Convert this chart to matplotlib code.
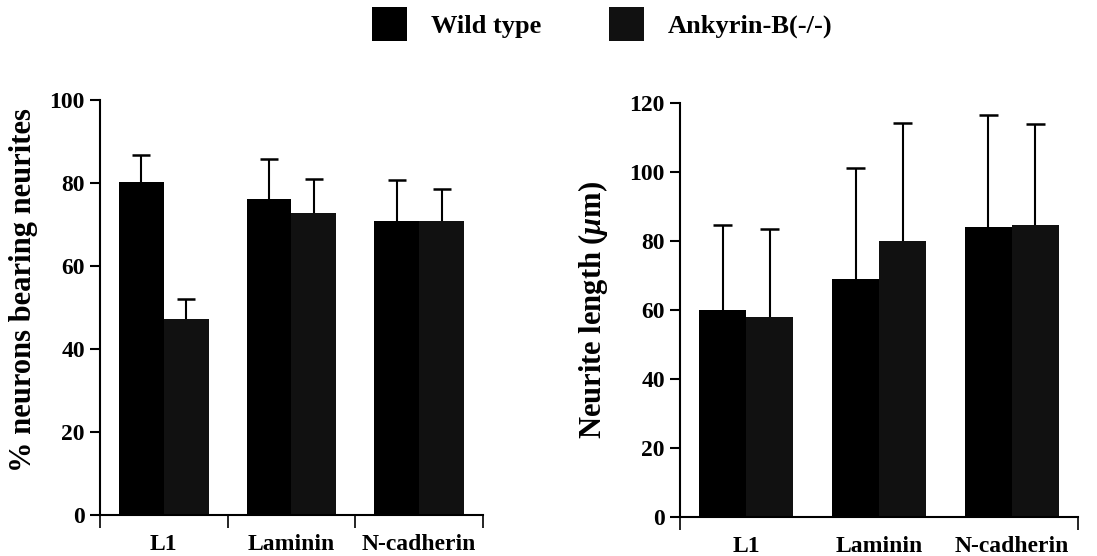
import matplotlib
matplotlib.use("Agg")
import matplotlib.pyplot as plt
from matplotlib.patches import Patch
import numpy as np

plt.rcParams['font.family'] = ['Liberation Serif', 'DejaVu Serif']
plt.rcParams['font.weight'] = 'bold'
plt.rcParams['mathtext.fontset'] = 'custom'
plt.rcParams['mathtext.it'] = 'Liberation Serif:bold:italic'
plt.rcParams['mathtext.rm'] = 'Liberation Serif:bold'

categories = ["L1", "Laminin", "N-cadherin"]
series_names = ["Wild type", "Ankyrin-B(-/-)"]

pct_wt = [80.3, 76.1, 71.0]
pct_wt_err = [6.4, 9.7, 9.8]
pct_ko = [47.3, 72.8, 71.0]
pct_ko_err = [4.9, 8.3, 7.7]

len_wt = [59.9, 68.8, 84.1]
len_wt_err = [24.6, 32.2, 32.3]
len_ko = [57.8, 79.8, 84.5]
len_ko_err = [25.6, 34.2, 29.4]

wt_color = "#000000"
ko_color = "#111111"

fig = plt.figure(figsize=(10.97, 5.56), dpi=100)
ax1 = fig.add_axes([0.0912, 0.0737, 0.349, 0.746])
ax2 = fig.add_axes([0.6199, 0.0707, 0.3628, 0.7446])

def draw(ax, wt, wt_err, ko, ko_err, ymax, ylabel, width, group_ticks, labelpad):
    x = np.arange(len(categories)) + 0.5
    ax.bar(x - width / 2, wt, width, color=wt_color, zorder=2)
    ax.bar(x + width / 2, ko, width, color=ko_color, zorder=2)
    cap = width * 0.2
    for xs, vals, errs in ((x - width / 2, wt, wt_err), (x + width / 2, ko, ko_err)):
        tops = np.array(vals) + np.array(errs)
        ax.vlines(xs, vals, tops, colors='black', linewidth=1.5, zorder=1)
        ax.hlines(tops, xs - cap, xs + cap, colors='black', linewidth=1.8, zorder=1)
    ax.set_xlim(0, len(categories))
    ax.set_ylim(0, ymax)
    for s in ['top', 'right']:
        ax.spines[s].set_visible(False)
    for s in ['left', 'bottom']:
        ax.spines[s].set_linewidth(1.5)
    ax.set_yticks(np.arange(0, ymax + 1, 20))
    ax.tick_params(axis='y', direction='out', length=7, width=1.5, labelsize=17, pad=4)
    ax.set_xticks(x)
    ax.set_xticklabels(categories, fontsize=17, fontweight='bold')
    ax.tick_params(axis='x', length=0, pad=14)
    ax.set_xticks(group_ticks, minor=True)
    ax.tick_params(axis='x', which='minor', direction='out', length=9, width=1.2)
    for lab in ax.get_yticklabels():
        lab.set_fontweight('bold')
    ax.set_ylabel(ylabel, fontsize=22, fontweight='bold', labelpad=labelpad)

draw(ax1, pct_wt, pct_wt_err, pct_ko, pct_ko_err, 100,
     "% neurons bearing neurites", 0.352, [0, 1, 2, 3], 8)
draw(ax2, len_wt, len_wt_err, len_ko, len_ko_err, 120,
     r"Neurite length ($\mu$m)", 0.354, [0, 3], 14)
ax1.yaxis.label.set_y(0.542)

handles = [Patch(facecolor=wt_color, edgecolor='none'), Patch(facecolor=ko_color, edgecolor='none')]
fig.legend(handles, series_names, loc='center', bbox_to_anchor=(0.549, 0.957), ncol=2,
           frameon=False, prop={'family': 'Liberation Serif', 'weight': 'bold', 'size': 19},
           handlelength=1.3, handleheight=1.6, handletextpad=0.9, columnspacing=2.6)

fig.savefig("out.png", dpi=100)
